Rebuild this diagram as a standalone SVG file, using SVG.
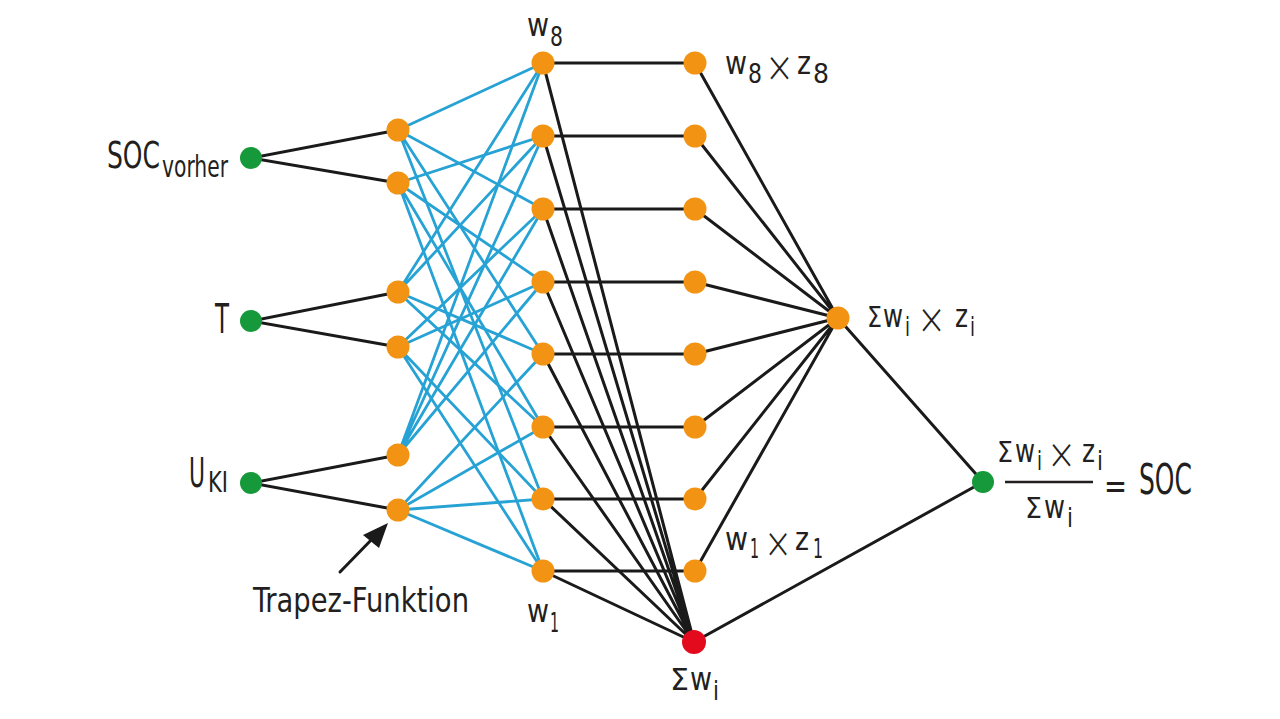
<svg xmlns="http://www.w3.org/2000/svg" width="1280" height="719" viewBox="0 0 1280 719">
<style>
.t{font-family:"Liberation Sans Narrow","DejaVu Sans Condensed","Liberation Sans",sans-serif;fill:#231f20}
.x{font-family:Inter,Lato,"Open Sans","Liberation Sans",sans-serif;font-weight:200;fill:#231f20}
.b{stroke:#27a2d4;stroke-width:2.8;fill:none;stroke-linecap:round}
.k{stroke:#1a1a1a;stroke-width:3;fill:none;stroke-linecap:round}
.o{fill:#f39314}
.g{fill:#16993a}
.r{fill:#e30a1e}
</style>
<rect width="1280" height="719" fill="#ffffff"/>
<g id="connectors">
<g id="blue">
<path class="b" d="M398,130L543,63M398,130L543,209M398,130L543,354M398,130L543,499"/>
<path class="b" d="M398,183L543,136M398,183L543,282M398,183L543,427M398,183L543,571"/>
<path class="b" d="M398,292L543,63M398,292L543,136M398,292L543,354M398,292L543,427"/>
<path class="b" d="M398,347L543,209M398,347L543,282M398,347L543,499M398,347L543,571"/>
<path class="b" d="M398,455L543,63M398,455L543,136M398,455L543,209M398,455L543,282"/>
<path class="b" d="M398,510L543,354M398,510L543,427M398,510L543,499M398,510L543,571"/>
</g>
<g id="black">
<path class="k" d="M251,158L398,130M251,158L398,183M251,321L398,292M251,321L398,347M251,483L398,455M251,483L398,510"/>
<path class="k" d="M543,63H695M543,136H695M543,209H695M543,282H695M543,354H695M543,427H695M543,499H695M543,571H695"/>
<path class="k" d="M543,63L694,642M543,136L694,642M543,209L694,642M543,282L694,642M543,354L694,642M543,427L694,642M543,499L694,642M543,571L694,642"/>
<path class="k" d="M695,63L838,318M695,136L838,318M695,209L838,318M695,282L838,318M695,354L838,318M695,427L838,318M695,499L838,318M695,571L838,318"/>
<path class="k" d="M838,318L983,482M694,642L983,482"/>
</g>
<g id="arrow">
<path class="k" d="M340,572L376,535"/>
<polygon points="388,523 363,535 379,548" fill="#1a1a1a"/>
</g>
<line id="fraction" x1="1005" y1="482" x2="1093" y2="482" stroke="#231f20" stroke-width="2.4"/>
</g>
<g id="inputs">
<g id="in-soc"><circle class="g" cx="251" cy="158" r="11"/>
<text class="t" x="107" y="168" font-size="38" textLength="53" lengthAdjust="spacingAndGlyphs">SOC</text>
<text class="t" x="162" y="177" font-size="30" textLength="66" lengthAdjust="spacingAndGlyphs">vorher</text></g>
<g id="in-t"><circle class="g" cx="251" cy="321" r="11"/>
<text class="t" x="215" y="333" font-size="40" textLength="14" lengthAdjust="spacingAndGlyphs">T</text></g>
<g id="in-u"><circle class="g" cx="251" cy="483" r="11"/>
<text class="t" x="189" y="487" font-size="40" textLength="16" lengthAdjust="spacingAndGlyphs">U</text>
<text class="t" x="208" y="492" font-size="28" textLength="20" lengthAdjust="spacingAndGlyphs">KI</text></g>
</g>
<g id="membership">
<circle id="m1" class="o" cx="398" cy="130" r="11.5"/>
<circle id="m2" class="o" cx="398" cy="183" r="11.5"/>
<circle id="m3" class="o" cx="398" cy="292" r="11.5"/>
<circle id="m4" class="o" cx="398" cy="347" r="11.5"/>
<circle id="m5" class="o" cx="398" cy="455" r="11.5"/>
<circle id="m6" class="o" cx="398" cy="510" r="11.5"/>
<text class="t" x="253" y="612" font-size="33" textLength="216" lengthAdjust="spacingAndGlyphs">Trapez-Funktion</text>
</g>
<g id="rules">
<circle id="r8" class="o" cx="543" cy="63" r="11.5"/>
<circle id="r7" class="o" cx="543" cy="136" r="11.5"/>
<circle id="r6" class="o" cx="543" cy="209" r="11.5"/>
<circle id="r5" class="o" cx="543" cy="282" r="11.5"/>
<circle id="r4" class="o" cx="543" cy="354" r="11.5"/>
<circle id="r3" class="o" cx="543" cy="427" r="11.5"/>
<circle id="r2" class="o" cx="543" cy="499" r="11.5"/>
<circle id="r1" class="o" cx="543" cy="571" r="11.5"/>
<text class="t" x="527" y="36" font-size="32" textLength="22" lengthAdjust="spacingAndGlyphs">w</text>
<text class="t" x="550" y="46" font-size="27" textLength="13" lengthAdjust="spacingAndGlyphs">8</text>
<text class="t" x="527" y="622" font-size="32" textLength="22" lengthAdjust="spacingAndGlyphs">w</text>
<text class="t" x="550" y="632" font-size="27" textLength="9" lengthAdjust="spacingAndGlyphs">1</text>
</g>
<g id="products">
<circle id="p8" class="o" cx="695" cy="63" r="11.5"/>
<circle id="p7" class="o" cx="695" cy="136" r="11.5"/>
<circle id="p6" class="o" cx="695" cy="209" r="11.5"/>
<circle id="p5" class="o" cx="695" cy="282" r="11.5"/>
<circle id="p4" class="o" cx="695" cy="354" r="11.5"/>
<circle id="p3" class="o" cx="695" cy="427" r="11.5"/>
<circle id="p2" class="o" cx="695" cy="499" r="11.5"/>
<circle id="p1" class="o" cx="695" cy="571" r="11.5"/>
<text class="t" x="725" y="74" font-size="32" textLength="22" lengthAdjust="spacingAndGlyphs">w</text>
<text class="t" x="748" y="83" font-size="27" textLength="14" lengthAdjust="spacingAndGlyphs">8</text>
<text class="x" x="766" y="83" font-size="52" textLength="27" lengthAdjust="spacingAndGlyphs">×</text>
<text class="t" x="797" y="74" font-size="32" textLength="14" lengthAdjust="spacingAndGlyphs">z</text>
<text class="t" x="813" y="83" font-size="27" textLength="16" lengthAdjust="spacingAndGlyphs">8</text>
<text class="t" x="725" y="550" font-size="32" textLength="23" lengthAdjust="spacingAndGlyphs">w</text>
<text class="t" x="750" y="558" font-size="27" textLength="9" lengthAdjust="spacingAndGlyphs">1</text>
<text class="x" x="765" y="559" font-size="52" textLength="26" lengthAdjust="spacingAndGlyphs">×</text>
<text class="t" x="795" y="550" font-size="32" textLength="14" lengthAdjust="spacingAndGlyphs">z</text>
<text class="t" x="813" y="558" font-size="27" textLength="10" lengthAdjust="spacingAndGlyphs">1</text>
</g>
<g id="sum-wz">
<circle class="o" cx="838" cy="318" r="11.5"/>
<text class="t" x="867" y="327" font-size="28" textLength="15" lengthAdjust="spacingAndGlyphs">Σ</text>
<text class="t" x="883" y="327" font-size="32" textLength="20" lengthAdjust="spacingAndGlyphs">w</text>
<text class="t" x="905" y="336" font-size="26" textLength="5" lengthAdjust="spacingAndGlyphs">i</text>
<text class="x" x="918" y="335" font-size="52" textLength="27" lengthAdjust="spacingAndGlyphs">×</text>
<text class="t" x="955" y="327" font-size="32" textLength="13" lengthAdjust="spacingAndGlyphs">z</text>
<text class="t" x="970" y="336" font-size="26" textLength="5" lengthAdjust="spacingAndGlyphs">i</text>
</g>
<g id="sum-w">
<circle class="r" cx="694" cy="642" r="12"/>
<text class="t" x="670" y="690" font-size="30" textLength="19" lengthAdjust="spacingAndGlyphs">Σ</text>
<text class="t" x="690" y="690" font-size="32" textLength="22" lengthAdjust="spacingAndGlyphs">w</text>
<text class="t" x="713" y="700" font-size="26" textLength="6" lengthAdjust="spacingAndGlyphs">i</text>
</g>
<g id="output">
<circle class="g" cx="983" cy="482" r="11"/>
<text class="t" x="997" y="462" font-size="28" textLength="16" lengthAdjust="spacingAndGlyphs">Σ</text>
<text class="t" x="1015" y="462" font-size="32" textLength="20" lengthAdjust="spacingAndGlyphs">w</text>
<text class="t" x="1037" y="470" font-size="26" textLength="5" lengthAdjust="spacingAndGlyphs">i</text>
<text class="x" x="1048" y="470" font-size="52" textLength="27" lengthAdjust="spacingAndGlyphs">×</text>
<text class="t" x="1082" y="462" font-size="32" textLength="13" lengthAdjust="spacingAndGlyphs">z</text>
<text class="t" x="1097" y="470" font-size="26" textLength="6" lengthAdjust="spacingAndGlyphs">i</text>
<text class="t" x="1025" y="518" font-size="28" textLength="17" lengthAdjust="spacingAndGlyphs">Σ</text>
<text class="t" x="1044" y="518" font-size="32" textLength="21" lengthAdjust="spacingAndGlyphs">w</text>
<text class="t" x="1067" y="527" font-size="26" textLength="6" lengthAdjust="spacingAndGlyphs">i</text>
<text class="t" x="1104" y="498" font-size="36" textLength="23" lengthAdjust="spacingAndGlyphs">=</text>
<text class="t" x="1139" y="494" font-size="42" textLength="53" lengthAdjust="spacingAndGlyphs">SOC</text>
</g>
</svg>
